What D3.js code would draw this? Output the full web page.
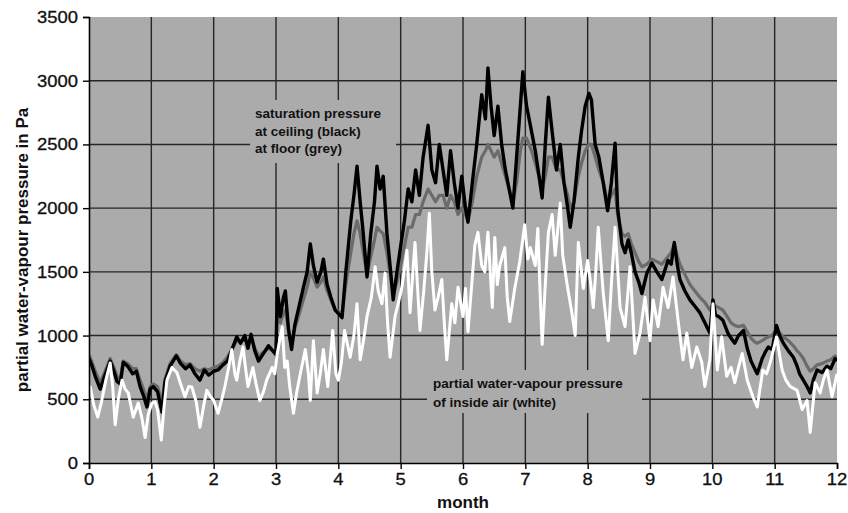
<!DOCTYPE html>
<html><head><meta charset="utf-8">
<script src="https://cdn.jsdelivr.net/npm/d3@7"></script>
<style>html,body{margin:0;padding:0;background:#fff;}svg{display:block;}</style>
</head><body>
<script>
// ---------- data ----------
const monthTicks = [0,1,2,3,4,5,6,7,8,9,10,11,12];
const paTicks = [0,500,1000,1500,2000,2500,3000,3500];

// saturation pressure: months (shared by ceiling and floor series)
const satMonth = [0.00,0.05,0.10,0.18,0.25,0.34,0.40,0.45,0.50,0.55,0.62,0.70,0.76,0.82,0.88,0.93,0.98,1.03,1.10,1.17,
1.22,1.30,1.40,1.47,1.55,1.62,1.70,1.78,1.85,1.92,2.00,2.07,2.15,2.22,2.30,2.37,2.43,2.50,2.55,2.60,
2.66,2.72,2.80,2.88,2.95,3.00,3.02,3.07,3.12,3.15,3.20,3.25,3.30,3.38,3.45,3.50,3.55,3.60,3.66,3.72,
3.76,3.82,3.88,3.95,4.06,4.12,4.20,4.25,4.30,4.35,4.40,4.46,4.52,4.58,4.62,4.67,4.72,4.78,4.84,4.88,
4.94,5.00,5.06,5.12,5.18,5.24,5.30,5.36,5.44,5.50,5.56,5.62,5.68,5.74,5.80,5.86,5.92,5.98,6.04,6.08,
6.15,6.22,6.30,6.36,6.40,6.45,6.50,6.56,6.62,6.68,6.74,6.80,6.86,6.92,6.96,7.02,7.10,7.16,7.22,7.27,
7.32,7.37,7.43,7.50,7.56,7.62,7.68,7.72,7.78,7.85,7.90,7.96,8.02,8.06,8.12,8.18,8.25,8.32,8.38,8.44,
8.48,8.55,8.60,8.65,8.70,8.76,8.82,8.87,8.95,9.03,9.11,9.19,9.29,9.34,9.39,9.44,9.48,9.56,9.64,9.72,
9.80,9.88,9.96,10.01,10.05,10.10,10.17,10.25,10.30,10.36,10.42,10.50,10.56,10.62,10.68,10.72,10.80,10.86,10.90,10.96,
11.03,11.08,11.14,11.22,11.30,11.36,11.40,11.46,11.52,11.57,11.62,11.68,11.76,11.84,11.90,11.97,12.00];

// saturation pressure at ceiling (black), Pa
const ceilingPa = [820,760,680,580,680,800,720,640,620,790,760,700,720,600,520,440,580,600,560,400,
640,760,840,780,740,770,700,650,730,690,720,730,770,800,900,990,940,1000,900,1010,
880,800,860,920,880,850,1370,1150,1300,1350,1050,890,1080,1250,1400,1500,1720,1550,1420,1500,
1600,1400,1300,1200,1140,1500,1900,2100,2330,2050,1800,1460,1800,2050,2330,2150,2250,1800,1500,1280,
1500,1700,1900,2150,2050,2300,2100,2400,2650,2300,2200,2500,2300,2100,2450,2200,2000,2250,2000,1890,
2200,2500,2890,2700,3100,2800,2570,2800,2500,2300,2150,2000,2400,2800,3070,2800,2600,2450,2250,2080,
2500,2870,2600,2300,2500,2200,2000,1850,2050,2400,2600,2800,2900,2850,2500,2400,2200,1980,2200,2510,
2000,1720,1650,1750,1650,1500,1420,1330,1490,1570,1500,1440,1590,1560,1730,1550,1440,1350,1280,1230,
1180,1100,1020,1280,1160,1150,1120,1020,980,940,1000,1040,900,800,740,700,820,880,910,890,
1080,1000,940,880,830,760,700,650,600,550,650,730,710,760,740,820,800];

// saturation pressure at floor (grey), Pa
const floorPa = [850,790,720,630,710,820,750,680,660,800,780,740,740,650,570,500,600,620,600,470,
660,780,850,800,770,780,740,720,740,730,750,760,790,830,900,960,950,970,940,980,
900,840,870,900,880,870,1200,1100,1180,1200,1050,920,1050,1180,1300,1380,1500,1450,1380,1420,
1460,1350,1280,1200,1180,1400,1650,1800,1900,1800,1650,1480,1620,1750,1850,1820,1800,1650,1450,1320,
1420,1550,1700,1850,1850,1950,1950,2050,2150,2100,2050,2100,2100,2000,2100,2050,1950,2000,1950,1900,
2050,2250,2400,2450,2500,2450,2400,2450,2350,2250,2150,2050,2200,2450,2550,2550,2450,2350,2250,2150,
2250,2400,2400,2300,2300,2200,2100,2000,2050,2250,2350,2450,2500,2500,2400,2300,2200,2050,2100,2150,
1950,1800,1780,1800,1720,1650,1580,1540,1560,1600,1580,1560,1620,1650,1720,1620,1560,1480,1400,1350,
1300,1260,1200,1250,1230,1220,1200,1140,1100,1080,1070,1080,1030,980,950,940,960,980,990,1000,
1050,1020,990,960,920,880,860,820,760,720,740,770,780,800,810,840,830];

// partial water-vapour pressure of inside air (white)
const airMonth = [0.00,0.02,0.08,0.14,0.20,0.27,0.34,0.38,0.42,0.47,0.53,0.58,0.63,0.71,0.79,0.85,0.90,0.95,1.01,1.06,
1.10,1.16,1.20,1.25,1.33,1.41,1.47,1.54,1.60,1.65,1.72,1.78,1.84,1.89,1.95,2.00,2.07,2.13,2.18,2.24,
2.29,2.34,2.37,2.42,2.47,2.51,2.55,2.63,2.68,2.74,2.80,2.85,2.94,2.98,3.02,3.10,3.14,3.18,3.22,3.28,
3.33,3.39,3.47,3.52,3.55,3.60,3.66,3.71,3.76,3.83,3.91,3.96,4.00,4.05,4.10,4.19,4.25,4.30,4.35,4.40,
4.46,4.53,4.59,4.64,4.70,4.75,4.79,4.83,4.91,4.96,5.02,5.10,5.15,5.23,5.31,5.37,5.42,5.46,5.50,5.55,
5.60,5.66,5.70,5.74,5.82,5.87,5.92,6.00,6.04,6.08,6.14,6.19,6.24,6.30,6.35,6.40,6.47,6.51,6.55,6.59,
6.67,6.71,6.75,6.83,6.91,6.99,7.04,7.08,7.16,7.20,7.24,7.27,7.32,7.37,7.43,7.48,7.56,7.60,7.64,7.68,
7.74,7.80,7.85,7.93,8.00,8.05,8.09,8.13,8.17,8.25,8.33,8.38,8.44,8.52,8.60,8.68,8.76,8.84,8.92,9.00,
9.05,9.13,9.21,9.29,9.37,9.45,9.53,9.59,9.67,9.75,9.83,9.88,9.96,10.01,10.08,10.15,10.23,10.30,10.36,10.42,
10.48,10.56,10.65,10.72,10.81,10.87,10.93,11.03,11.12,11.18,11.25,11.36,11.44,11.52,11.57,11.65,11.73,11.78,11.84,11.92,12.00];
const airPa = [600,597,450,360,480,650,785,600,300,500,650,580,550,360,470,350,200,380,470,480,
416,180,420,650,750,710,620,520,600,597,480,280,450,570,520,490,390,500,600,750,
890,700,650,800,910,750,600,750,620,490,560,650,750,700,860,1070,750,800,600,390,
550,700,890,700,490,960,550,700,890,600,1040,700,650,790,1040,830,1000,1250,810,950,
1150,1300,1540,1350,1250,1490,1100,830,1150,1250,1380,1670,1180,1730,1040,1350,1650,1960,1500,1200,
1300,1440,1100,810,1250,1100,1380,1150,1370,1030,1400,1710,1810,1550,1500,1810,1220,1770,1400,1550,
1690,1300,1110,1370,1580,1870,1600,1690,1550,1840,1300,930,1400,1810,1950,1630,2040,1630,1500,1370,
1200,1000,1730,1370,1590,1400,1220,1500,1850,1330,960,1400,1850,1220,1070,1540,860,1020,1300,960,
1280,1070,1380,1220,1460,1120,810,1020,750,910,790,600,810,1250,730,990,680,750,630,750,
860,650,520,440,730,700,790,990,730,650,600,570,420,490,240,630,550,650,730,520,700];

// ---------- drawing ----------
const W = 848, H = 513;
const svg = d3.select("body").append("svg").attr("width", W).attr("height", H);
const x = d3.scaleLinear().domain([0, 12]).range([89, 837]);
const y = d3.scaleLinear().domain([0, 3500]).range([463, 17]);
const plotBg = "#ababab";
const font = "'Liberation Sans', Arial, sans-serif";

svg.append("rect").attr("x", x(0)).attr("y", y(3500))
  .attr("width", x(12) - x(0)).attr("height", y(0) - y(3500)).attr("fill", plotBg);

// grid
const grid = svg.append("g");
grid.selectAll("line.h").data(paTicks.filter(v => v > 0 && v < 3500)).join("line")
  .attr("x1", x(0)).attr("x2", x(12)).attr("y1", d => y(d)).attr("y2", d => y(d))
  .attr("stroke", "#262626").attr("stroke-width", 1.4);
grid.selectAll("line.v").data(monthTicks.filter(v => v > 0 && v < 12)).join("line")
  .attr("y1", y(0)).attr("y2", y(3500)).attr("x1", d => x(d)).attr("x2", d => x(d))
  .attr("stroke", "#262626").attr("stroke-width", 1.4);

// annotation boxes covering the grid
svg.append("rect").attr("x", 250).attr("y", 100).attr("width", 146).attr("height", 63).attr("fill", plotBg);
svg.append("rect").attr("x", 427).attr("y", 370).attr("width", 215).attr("height", 43).attr("fill", plotBg);

// series
const sat = satMonth.map((m, i) => ({m, c: ceilingPa[i], f: floorPa[i]}));
const air = airMonth.map((m, i) => ({m, v: airPa[i]}));
svg.append("clipPath").attr("id", "clip").append("rect")
  .attr("x", x(0)).attr("y", y(3500)).attr("width", x(12) - x(0)).attr("height", y(0) - y(3500));
const lines = svg.append("g").attr("clip-path", "url(#clip)");
lines.append("path").datum(sat)
  .attr("d", d3.line().x(d => x(d.m)).y(d => y(d.f)))
  .attr("fill", "none").attr("stroke", "#6b6b6b").attr("stroke-width", 3.2).attr("stroke-linejoin", "round");
lines.append("path").datum(sat)
  .attr("d", d3.line().x(d => x(d.m)).y(d => y(d.c)))
  .attr("fill", "none").attr("stroke", "#000").attr("stroke-width", 3.4).attr("stroke-linejoin", "round");
lines.append("path").datum(air)
  .attr("d", d3.line().x(d => x(d.m)).y(d => y(d.v)))
  .attr("fill", "none").attr("stroke", "#fff").attr("stroke-width", 3).attr("stroke-linejoin", "round");

// axes
const yAxis = svg.append("g").attr("transform", `translate(${x(0)},0)`)
  .call(d3.axisLeft(y).tickValues(paTicks).tickSize(6).tickFormat(""));
const xAxis = svg.append("g").attr("transform", `translate(0,${y(0)})`)
  .call(d3.axisBottom(x).tickValues(monthTicks).tickSize(6).tickFormat(""));
[yAxis, xAxis].forEach(g => {
  g.select(".domain").attr("stroke", "#000").attr("stroke-width", 1.6);
  g.selectAll(".tick line").attr("stroke", "#000").attr("stroke-width", 1.4);
});

// tick labels
svg.append("g").selectAll("text").data(paTicks).join("text")
  .attr("transform", d => `translate(78,${y(d) + 6}) scale(1.15,1)`)
  .attr("text-anchor", "end").attr("font-family", font).attr("font-size", 16).attr("fill", "#111")
  .attr("stroke", "#111").attr("stroke-width", 0.3)
  .text(d => d);
svg.append("g").selectAll("text").data(monthTicks).join("text")
  .attr("transform", d => `translate(${x(d)},${y(0) + 22}) scale(1.15,1)`)
  .attr("text-anchor", "middle").attr("font-family", font).attr("font-size", 16).attr("fill", "#111")
  .attr("stroke", "#111").attr("stroke-width", 0.3)
  .text(d => d);

// axis titles
svg.append("text").attr("transform", `translate(28,${(y(0) + y(3500)) / 2 + 10}) rotate(-90)`)
  .attr("text-anchor", "middle").attr("font-family", font).attr("font-weight", "bold")
  .attr("font-size", 17).attr("fill", "#111").text("partial water-vapour pressure in Pa");
svg.append("text").attr("x", 463).attr("y", 508)
  .attr("text-anchor", "middle").attr("font-family", font).attr("font-weight", "bold")
  .attr("font-size", 17).attr("fill", "#111").text("month");

// annotations
const ann1 = ["saturation pressure", "at ceiling (black)", "at floor (grey)"];
svg.append("g").selectAll("text").data(ann1).join("text")
  .attr("x", 255).attr("y", (d, i) => 118 + i * 17.5)
  .attr("font-family", font).attr("font-weight", "bold").attr("font-size", 13.5).attr("fill", "#111")
  .text(d => d);
const ann2 = ["partial water-vapour pressure", "of inside air (white)"];
svg.append("g").selectAll("text").data(ann2).join("text")
  .attr("x", 433).attr("y", (d, i) => 388 + i * 19)
  .attr("font-family", font).attr("font-weight", "bold").attr("font-size", 13.5).attr("fill", "#111")
  .text(d => d);
</script>
</body></html>
